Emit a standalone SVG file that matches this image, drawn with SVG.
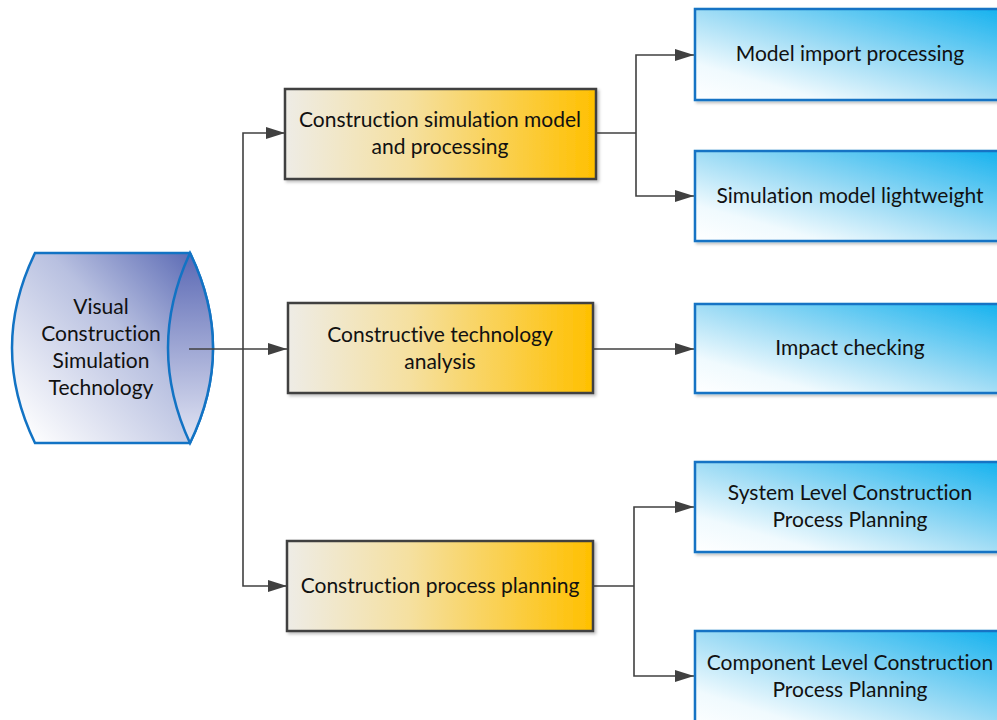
<svg xmlns="http://www.w3.org/2000/svg" width="997" height="720" viewBox="0 0 997 720">
<defs>
<linearGradient id="gOrange" x1="0" y1="0" x2="1" y2="0">
<stop offset="0" stop-color="#eeece6"/>
<stop offset="0.4" stop-color="#f5e0a0"/>
<stop offset="1" stop-color="#ffc000"/>
</linearGradient>
<linearGradient id="gBlue" x1="0" y1="1" x2="1" y2="0">
<stop offset="0" stop-color="#ffffff"/>
<stop offset="0.2" stop-color="#f0fafe"/>
<stop offset="0.5" stop-color="#9fdcf5"/>
<stop offset="1" stop-color="#0fb0ee"/>
</linearGradient>
<linearGradient id="gCyl" x1="0" y1="0.9" x2="1" y2="0">
<stop offset="0" stop-color="#ffffff"/>
<stop offset="0.55" stop-color="#b8c0e0"/>
<stop offset="1" stop-color="#4e5eae"/>
</linearGradient>
<linearGradient id="gCylEnd" x1="0" y1="0" x2="0" y2="1">
<stop offset="0" stop-color="#5a68b4"/>
<stop offset="1" stop-color="#e3e6f4"/>
</linearGradient>
<filter id="sh" x="-5%" y="-5%" width="115%" height="120%">
<feDropShadow dx="2" dy="2" stdDeviation="1.5" flood-color="#000" flood-opacity="0.25"/>
</filter>
<marker id="arr" markerWidth="19" markerHeight="12" refX="19" refY="6" orient="auto" markerUnits="userSpaceOnUse">
<path d="M0,0 L19,6 L0,12 z" fill="#404040"/>
</marker>
</defs>
<style>
.t{font-family:Lato,"Open Sans","Liberation Sans",sans-serif;font-size:21px;fill:#111;text-anchor:middle;font-variant-ligatures:none;font-feature-settings:"liga" 0}
.ob{fill:url(#gOrange);stroke:#404040;stroke-width:2.5;filter:url(#sh)}
.bb{fill:url(#gBlue);stroke:#1273c4;stroke-width:2.5;filter:url(#sh)}
.c{fill:none;stroke:#404040;stroke-width:1.6}
</style>
<g id="cylinder">
<path d="M35,253 L190,253 Q236,348 190,443 L35,443 Q-11,348 35,253 Z" fill="url(#gCyl)" stroke="#1273c4" stroke-width="2.5"/>
<path d="M190,253 Q146,348 190,443 Q236,348 190,253 Z" fill="url(#gCylEnd)" stroke="#1273c4" stroke-width="2.5"/>
<text class="t" x="101" y="314">Visual</text>
<text class="t" x="101" y="341">Construction</text>
<text class="t" x="101" y="368">Simulation</text>
<text class="t" x="101" y="395">Technology</text>
</g>
<g id="connectors">
<path class="c" d="M189,349 L287,349" marker-end="url(#arr)"/>
<path class="c" d="M243,349 L243,133 L285,133" marker-end="url(#arr)"/>
<path class="c" d="M243,349 L243,586 L287,586" marker-end="url(#arr)"/>
<path class="c" d="M596,133 L636,133"/>
<path class="c" d="M636,133 L636,55 L694,55" marker-end="url(#arr)"/>
<path class="c" d="M636,133 L636,196 L694,196" marker-end="url(#arr)"/>
<path class="c" d="M593,349 L694,349" marker-end="url(#arr)"/>
<path class="c" d="M593,586 L634,586"/>
<path class="c" d="M634,586 L634,507 L694,507" marker-end="url(#arr)"/>
<path class="c" d="M634,586 L634,676 L694,676" marker-end="url(#arr)"/>
</g>
<g id="box-model">
<rect class="ob" x="285" y="89" width="311" height="90"/>
<text class="t" x="440" y="127">Construction simulation model</text>
<text class="t" x="440" y="154">and processing</text>
</g>
<g id="box-tech">
<rect class="ob" x="288" y="303" width="305" height="90"/>
<text class="t" x="440" y="342">Constructive technology</text>
<text class="t" x="440" y="369">analysis</text>
</g>
<g id="box-plan">
<rect class="ob" x="287" y="541" width="306" height="90"/>
<text class="t" x="440" y="593">Construction process planning</text>
</g>
<g id="box-import">
<rect class="bb" x="695" y="9" width="320" height="91"/>
<text class="t" x="850" y="61">Model import processing</text>
</g>
<g id="box-lightweight">
<rect class="bb" x="695" y="151" width="320" height="90"/>
<text class="t" x="850" y="203">Simulation model lightweight</text>
</g>
<g id="box-impact">
<rect class="bb" x="695" y="304" width="320" height="89"/>
<text class="t" x="850" y="355">Impact checking</text>
</g>
<g id="box-system">
<rect class="bb" x="695" y="462" width="320" height="90"/>
<text class="t" x="850" y="500">System Level Construction</text>
<text class="t" x="850" y="527">Process Planning</text>
</g>
<g id="box-component">
<rect class="bb" x="695" y="631" width="320" height="100"/>
<text class="t" x="850" y="670">Component Level Construction</text>
<text class="t" x="850" y="697">Process Planning</text>
</g>
</svg>
